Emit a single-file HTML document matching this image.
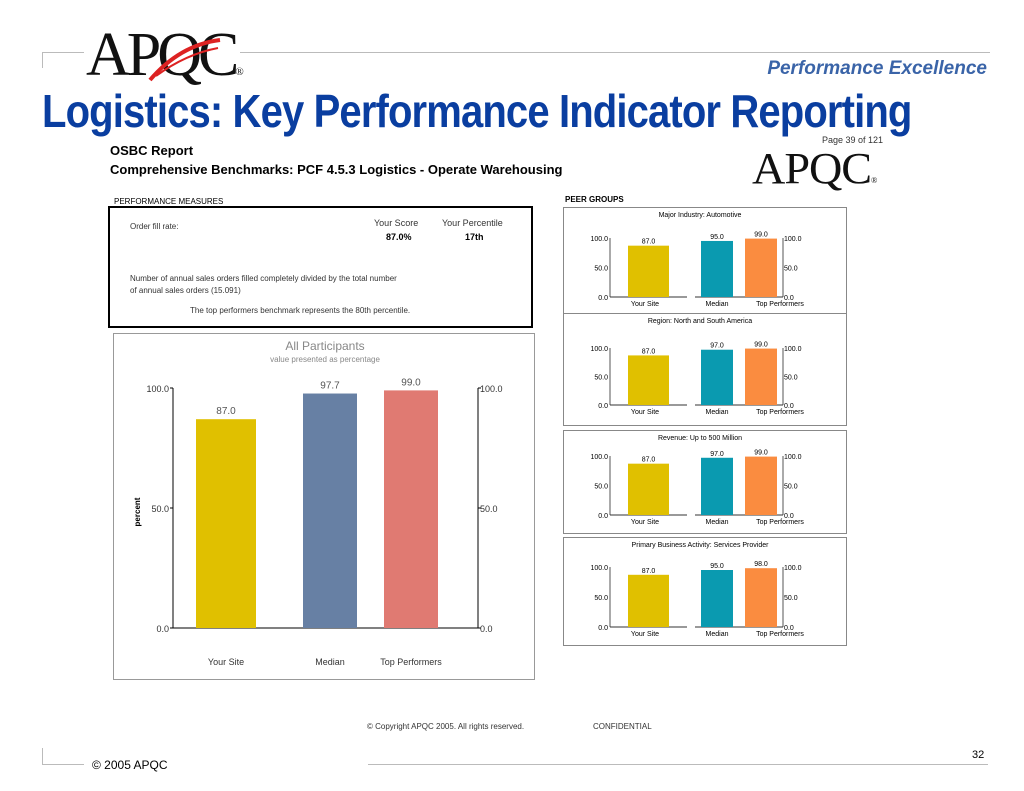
<!DOCTYPE html>
<html><head><meta charset="utf-8"><style>
body{margin:0;width:1024px;height:791px;background:#fff;overflow:hidden;font-family:"Liberation Sans",sans-serif;position:relative}
.a{position:absolute;white-space:nowrap}
</style></head><body>
<div class="a" style="left:42px;top:52px;width:42px;height:1px;background:#bbb"></div>
<div class="a" style="left:42px;top:52px;width:1px;height:16px;background:#bbb"></div>
<div class="a" style="left:240px;top:52px;width:750px;height:1px;background:#bbb"></div>
<div class="a" style="left:86px;top:24px;font-family:'Liberation Serif',serif;font-size:62px;letter-spacing:-4px;color:#111;line-height:62px">APQC<span style="font-size:11px;letter-spacing:0">®</span></div>
<svg class="a" style="left:130px;top:30px" width="100" height="55"><path d="M20 50 Q50 15 90 10" stroke="#d22" stroke-width="4" fill="none"/><path d="M26 46 Q56 24 88 18" stroke="#d22" stroke-width="2" fill="none"/></svg>
<div class="a" style="right:37px;top:58px;font-size:19px;font-style:italic;font-weight:bold;color:#3a64a8">Performance Excellence</div>
<div class="a" style="left:42px;top:84px;font-size:46px;font-weight:bold;color:#0a3ea0;letter-spacing:-1px;transform:scaleX(0.87);transform-origin:left">Logistics: Key Performance Indicator Reporting</div>
<div class="a" style="left:822px;top:135px;font-size:9px;color:#333">Page 39 of 121</div>
<div class="a" style="left:110px;top:143px;font-size:13px;font-weight:bold">OSBC Report</div>
<div class="a" style="left:110px;top:162px;font-size:13px;font-weight:bold">Comprehensive Benchmarks: PCF 4.5.3 Logistics - Operate Warehousing</div>
<div class="a" style="left:752px;top:146px;font-family:'Liberation Serif',serif;font-size:44px;letter-spacing:-1px;color:#111;line-height:46px;transform:scaleX(1.05);transform-origin:left">APQC<span style="font-size:8px;letter-spacing:0">®</span></div>
<div class="a" style="left:114px;top:197px;font-size:8px">PERFORMANCE MEASURES</div>
<div class="a" style="left:108px;top:206px;width:421px;height:118px;border:2px solid #000"></div>
<div class="a" style="left:130px;top:222px;font-size:8px;color:#333">Order fill rate:</div>
<div class="a" style="left:374px;top:218px;font-size:9px;color:#333">Your Score</div>
<div class="a" style="left:442px;top:218px;font-size:9px;color:#333">Your Percentile</div>
<div class="a" style="left:386px;top:232px;font-size:9px;font-weight:bold">87.0%</div>
<div class="a" style="left:465px;top:232px;font-size:9px;font-weight:bold">17th</div>
<div class="a" style="left:130px;top:273px;font-size:8px;color:#333;line-height:12px">Number of annual sales orders filled completely divided by the total number<br>of annual sales orders (15.091)</div>
<div class="a" style="left:190px;top:306px;font-size:8px;color:#333">The top performers benchmark represents the 80th percentile.</div>
<div class="a" style="left:565px;top:195px;font-size:8px;font-weight:bold">PEER GROUPS</div>
<svg id="main" class="a" style="left:0;top:0" width="1024" height="791"></svg>
<div class="a" style="left:367px;top:722px;font-size:8px;color:#333">© Copyright APQC 2005. All rights reserved.</div>
<div class="a" style="left:593px;top:722px;font-size:8px;color:#333">CONFIDENTIAL</div>
<div class="a" style="left:42px;top:748px;width:1px;height:16px;background:#bbb"></div>
<div class="a" style="left:42px;top:764px;width:42px;height:1px;background:#bbb"></div>
<div class="a" style="left:368px;top:764px;width:620px;height:1px;background:#bbb"></div>
<div class="a" style="left:92px;top:758px;font-size:12px">© 2005 APQC</div>
<div class="a" style="left:972px;top:749px;font-size:11px">32</div>
<script>
const mainCats=["Your Site","Median","Top Performers"];
const mainVals=[87.0,97.7,99.0];
const mainTicks=[0,50,100];
const peerTitles=["Major Industry: Automotive","Region: North and South America","Revenue: Up to 500 Million","Primary Business Activity: Services Provider"];
const peerSite=[87.0,87.0,87.0,87.0];
const peerMedian=[95.0,97.0,97.0,95.0];
const peerTop=[99.0,99.0,99.0,98.0];
const NS="http://www.w3.org/2000/svg";
const svg=document.getElementById('main');
function el(t,a,txt){const e=document.createElementNS(NS,t);for(const k in a)e.setAttribute(k,a[k]);if(txt!=null)e.textContent=txt;svg.appendChild(e);return e;}
let r=el('rect',{x:113.5,y:333.5,width:421,height:346,fill:'#fff',stroke:'#999'});

let t=el('text',{x:325,y:350,'font-size':12,fill:'#888','text-anchor':'middle','font-family':'Liberation Sans'},'All Participants');

el('text',{x:325,y:362,'font-size':8,fill:'#888','text-anchor':'middle','font-family':'Liberation Sans'},'value presented as percentage');
const y0=628,yh=240,xl=173,xr=478;
const ym=v=>y0-v/100*yh;
el('line',{x1:xl,y1:ym(100),x2:xl,y2:y0,stroke:'#000'});
el('line',{x1:xr,y1:ym(100),x2:xr,y2:y0,stroke:'#000'});
el('line',{x1:xl,y1:y0,x2:xr,y2:y0,stroke:'#000'});
mainTicks.forEach(v=>{
 el('line',{x1:xl-3,y1:ym(v),x2:xl,y2:ym(v),stroke:'#000'});
 el('line',{x1:xr,y1:ym(v),x2:xr+3,y2:ym(v),stroke:'#000'});
 el('text',{x:xl-4,y:ym(v)+4,'font-size':9,'text-anchor':'end','font-family':'Liberation Sans',fill:'#333'},v.toFixed(1));
 el('text',{x:xr+2,y:ym(v)+4,'font-size':9,'font-family':'Liberation Sans',fill:'#333'},v.toFixed(1));
});
const mainX=[196,303,384],mainW=[60,54,54],mainCol=['#e0c000','#6780a4','#e07a72'];
mainVals.forEach((v,i)=>{
 const b=el('rect',{x:mainX[i],y:ym(v),width:mainW[i],height:y0-ym(v),fill:mainCol[i]});
 
 el('text',{x:mainX[i]+mainW[i]/2,y:ym(v)-5,'font-size':10,'text-anchor':'middle','font-family':'Liberation Sans',fill:'#555'},v.toFixed(1));
 el('text',{x:mainX[i]+mainW[i]/2,y:665,'font-size':9,'text-anchor':'middle','font-family':'Liberation Sans',fill:'#333'},mainCats[i]);
});
let yl=el('text',{x:140,y:512,'font-size':8,'font-weight':'bold','text-anchor':'middle','font-family':'Liberation Sans',transform:'rotate(-90 140 512)'},'percent');

const panels=[[207,313,238,297],[313,425,348,405],[430,533,456,515],[537,645,567,627]];
peerTitles.forEach((tt,p)=>{
 const [pt,pb,py100,py0]=panels[p];
 const pr=el('rect',{x:563.5,y:pt+.5,width:283,height:pb-pt,fill:'none',stroke:'#888'});
 
 el('text',{x:700,y:pt+10,'font-size':7,'text-anchor':'middle','font-family':'Liberation Sans'},tt);
 const yy=v=>py0-v/100*(py0-py100);
 el('line',{x1:610,y1:py100,x2:610,y2:py0,stroke:'#555'});
 el('line',{x1:783,y1:py100,x2:783,y2:py0,stroke:'#555'});
 el('line',{x1:610,y1:py0,x2:687,y2:py0,stroke:'#333'});
 el('line',{x1:695,y1:py0,x2:783,y2:py0,stroke:'#333'});
 [0,50,100].forEach(v=>{
  el('text',{x:608,y:yy(v)+3,'font-size':7,'text-anchor':'end','font-family':'Liberation Sans'},v.toFixed(1));
  el('text',{x:784,y:yy(v)+3,'font-size':7,'font-family':'Liberation Sans'},v.toFixed(1));
 });
 const vals=[peerSite[p],peerMedian[p],peerTop[p]],xs=[628,701,745],ws=[41,32,32],cs=['#e0c000','#0a9ab0','#fa8c40'];
 vals.forEach((v,i)=>{
  const b=el('rect',{x:xs[i],y:yy(v),width:ws[i],height:py0-yy(v),fill:cs[i]});
  
  el('text',{x:xs[i]+ws[i]/2,y:yy(v)-2,'font-size':7,'text-anchor':'middle','font-family':'Liberation Sans'},v.toFixed(1));
  el('text',{x:[645,717,780][i],y:py0+9,'font-size':7,'text-anchor':'middle','font-family':'Liberation Sans'},["Your Site","Median","Top Performers"][i]);
 });
});
</script>
</body></html>
